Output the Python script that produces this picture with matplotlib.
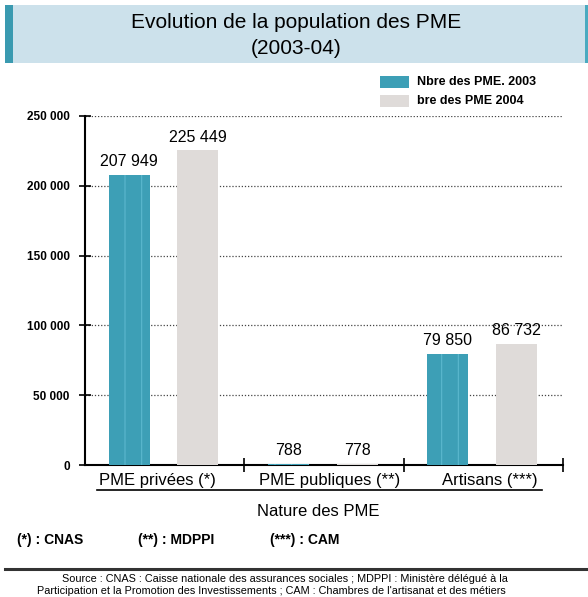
#!/usr/bin/env python3
"""
Evolution de la population des PME (2003-04): grouped bars by nature of PME.
"""

import matplotlib
matplotlib.use('Agg')
import matplotlib.pyplot as plt
from matplotlib.patches import Rectangle
from matplotlib.lines import Line2D
import numpy as np

plt.rcParams['font.family'] = ['Liberation Sans', 'DejaVu Sans']
plt.rcParams['hatch.linewidth'] = 0.8

CATEGORIES = ["PME privées (*)", "PME publiques (**)", "Artisans (***)"]
PME_2003 = [207949, 788, 79850]
PME_2004 = [225449, 778, 86732]
LABELS_2003 = ["207 949", "788", "79 850"]
LABELS_2004 = ["225 449", "778", "86 732"]
YTICKS = [0, 50000, 100000, 150000, 200000, 250000]
YTICK_LABELS = ["0", "50 000", "100 000", "150 000", "200 000", "250 000"]
LEGEND_LABELS = ["Nbre des PME. 2003", "bre des PME 2004"]
FOOTNOTES = ["(*) : CNAS", "(**) : MDPPI", "(***) : CAM"]
SOURCE_LINES = [
    "Source : CNAS : Caisse nationale des assurances sociales ; MDPPI : Ministère délégué à la",
    "Participation et la Promotion des Investissements ; CAM : Chambres de l'artisanat et des métiers",
]

COLOR_2003 = "#3d9fb6"
COLOR_2004 = "#dfdbd9"
W, H = 588, 597


def fx(px):
    return px / W


def fy(py):
    return 1 - py / H


fig = plt.figure(figsize=(W / 100, H / 100), dpi=100)

# title banner
fig.patches.append(Rectangle((fx(5), fy(63)), fx(583), fy(5) - fy(63), transform=fig.transFigure,
                             facecolor="#cce1eb", edgecolor="none", zorder=0))
fig.patches.append(Rectangle((fx(5), fy(63)), fx(8), fy(5) - fy(63), transform=fig.transFigure,
                             facecolor="#3a9ab0", edgecolor="none", zorder=1))
fig.patches.append(Rectangle((fx(585), fy(63)), fx(3), fy(5) - fy(63), transform=fig.transFigure,
                             facecolor="#4aaac0", edgecolor="none", zorder=1))
fig.text(fx(296), fy(23), "Evolution de la population des PME", ha="center", va="center", fontsize=15)
fig.text(fx(296), fy(48), "(2003-04)", ha="center", va="center", fontsize=15)

ax = fig.add_axes([fx(85), fy(465), fx(563) - fx(85), fy(116) - fy(465)])
x = np.arange(len(CATEGORIES))
width = 0.257
b1 = ax.bar(x - 0.222, PME_2003, width, color=COLOR_2003, edgecolor="#5cb8ce", hatch="|",
            linewidth=0, zorder=3)
b2 = ax.bar(x + 0.208, PME_2004, width, color=COLOR_2004, linewidth=0, zorder=3)

for rects, labels in [(b1, LABELS_2003), (b2, LABELS_2004)]:
    for r, lab in zip(rects, labels):
        ax.annotate(lab, (r.get_x() + r.get_width() / 2, r.get_height()), xytext=(0, 4),
                    textcoords="offset points", ha="center", va="bottom", fontsize=11.5, zorder=4)

ax.set_xlim(-0.5, 2.5)
ax.set_ylim(0, 250000)
ax.set_yticks(YTICKS)
ax.set_yticklabels(YTICK_LABELS, fontsize=8.5, fontweight="bold")
ax.set_xticks([0.5, 1.5, 2.5])
ax.set_xticklabels([])
ax.tick_params(axis="y", direction="inout", length=9, width=1.2, pad=6.5)
ax.tick_params(axis="x", direction="inout", length=10, width=1.2)
for s in ["top", "right"]:
    ax.spines[s].set_visible(False)
for s in ["left", "bottom"]:
    ax.spines[s].set_linewidth(1.5)
ax.yaxis.grid(True, linestyle=(0, (1, 1.5)), color="#444444", linewidth=0.9, zorder=1)
ax.set_axisbelow(True)

# category labels, underline, axis title
for px, cat in zip([157, 330, 490], CATEGORIES):
    fig.text(fx(px), fy(480), cat, ha="center", va="center", fontsize=12)
fig.add_artist(Line2D([fx(97), fx(542)], [fy(490), fy(490)], color="black", linewidth=1.2))
fig.text(fx(318), fy(511), "Nature des PME", ha="center", va="center", fontsize=12)

# legend
for py, color, lab in [(82, COLOR_2003, LEGEND_LABELS[0]), (101, COLOR_2004, LEGEND_LABELS[1])]:
    fig.patches.append(Rectangle((fx(380), fy(py + 6)), fx(29), fy(py - 6) - fy(py + 6),
                                 transform=fig.transFigure, facecolor=color, edgecolor="none"))
    fig.text(fx(417), fy(py), lab, ha="left", va="center", fontsize=9, fontweight="bold")

# footnotes
for px, note in zip([17, 138, 270], FOOTNOTES):
    fig.text(fx(px), fy(540), note, ha="left", va="center", fontsize=10, fontweight="bold")

fig.add_artist(Line2D([fx(5), 1], [fy(569), fy(569)], color="#333333", linewidth=2.2))
fig.text(fx(62), fy(579), SOURCE_LINES[0], ha="left", va="center", fontsize=7.8)
fig.text(fx(37), fy(591), SOURCE_LINES[1], ha="left", va="center", fontsize=7.8)

fig.savefig("out.png", dpi=100)
plt.close(fig)
